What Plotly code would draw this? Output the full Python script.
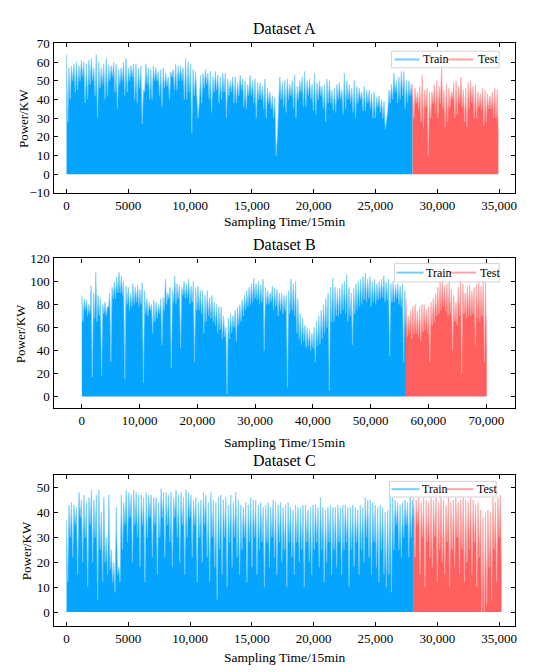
import numpy as np
import plotly.graph_objects as go

# ---------------- data ----------------
# Each series is stored as alternating local maxima (peaks) and minima (valleys)
# read along the time axis.

# Dataset A  (samples 0 .. 34944, train/test split at 28000)
A_split = 28000
A_end = 34944
A_train_peaks = [64, 57, 58, 59, 60, 58, 61, 60, 59, 61, 62, 57, 64, 60, 57, 59, 62, 58, 58, 60,
                 59, 56, 57, 60, 62, 57, 58, 59, 59, 57, 58, 45, 59, 57, 56, 58, 57, 55, 56, 57,
                 54, 52, 55, 56, 59, 58, 58, 57, 62, 60, 59, 56, 55, 30, 53, 54, 56, 54, 55, 52,
                 55, 53, 52, 54, 54, 51, 50, 52, 52, 49, 53, 51, 50, 48, 53, 50, 51, 49, 49, 47,
                 51, 46, 44, 42, 41, 20, 52, 49, 50, 51, 48, 50, 53, 47, 50, 52, 55, 50, 51, 48,
                 54, 49, 50, 47, 48, 51, 50, 45, 46, 48, 49, 45, 54, 50, 48, 46, 50, 47, 46, 44,
                 47, 45, 45, 43, 44, 41, 42, 40, 39, 30, 45, 48, 54, 50, 52, 55, 55, 50, 50, 48]
A_train_valleys = [28, 40, 50, 44, 45, 50, 52, 38, 40, 48, 50, 42, 30, 46, 48, 40, 42, 50, 52, 44,
                   35, 48, 50, 42, 44, 50, 52, 40, 38, 46, 27, 44, 48, 40, 40, 50, 50, 42, 36, 46,
                   47, 40, 52, 45, 45, 50, 50, 40, 40, 44, 22, 42, 45, 38, 38, 46, 48, 40, 33, 44,
                   45, 38, 40, 44, 30, 42, 44, 38, 38, 42, 45, 36, 35, 42, 42, 38, 30, 40, 40, 35,
                   30, 38, 35, 30, 10, 38, 40, 36, 33, 40, 42, 35, 30, 40, 44, 36, 36, 42, 40, 34,
                   32, 40, 42, 35, 28, 38, 38, 34, 33, 40, 40, 32, 35, 40, 38, 33, 30, 38, 40, 34,
                   34, 38, 35, 30, 30, 36, 33, 30, 24, 34, 38, 40, 44, 38, 40, 42, 35, 38, 42, 40]
A_test_peaks = [48, 46, 44, 47, 53, 45, 46, 44, 44, 48, 50, 47, 57, 45, 48, 46, 44, 49,
                50, 47, 52, 45, 46, 49, 50, 47, 48, 44, 43, 46, 45, 43, 42, 44, 46, 45]
A_test_valleys = [30, 38, 35, 28, 25, 36, 10, 30, 38, 33, 30, 38, 35, 25, 28, 36, 40, 30,
                  32, 38, 36, 28, 25, 35, 38, 30, 30, 36, 34, 26, 28, 35, 35, 30, 30, 20]

# Dataset B  (samples 0 .. 70080, split at 56100)
B_split = 56100
B_end = 70080
B_train_peaks = [88, 85, 84, 80, 96, 90, 108, 88, 85, 80, 82, 78, 90, 95, 100, 104, 108, 105, 100, 96,
                 95, 90, 98, 95, 97, 93, 99, 92, 85, 82, 80, 84, 82, 80, 85, 86, 102, 90, 95, 92,
                 105, 98, 97, 95, 100, 98, 102, 96, 100, 95, 96, 92, 92, 88, 92, 86, 88, 82, 80, 78,
                 78, 70, 60, 68, 72, 70, 75, 78, 80, 84, 88, 92, 95, 98, 103, 98, 100, 97, 102, 95,
                 92, 90, 96, 94, 93, 90, 90, 88, 88, 92, 102, 98, 100, 85, 72, 68, 62, 60, 58, 55,
                 60, 65, 70, 75, 80, 85, 90, 95, 103, 95, 92, 94, 98, 100, 106, 95, 90, 94, 98, 100,
                 102, 104, 107, 102, 104, 100, 102, 98, 100, 102, 105, 100, 102, 98, 100, 97, 98, 96, 98, 92]
B_train_valleys = [65, 75, 70, 72, 17, 68, 65, 70, 18, 72, 70, 78, 30, 85, 85, 90, 90, 88, 15, 80,
                   75, 78, 80, 82, 78, 80, 12, 72, 70, 75, 55, 65, 68, 72, 45, 75, 80, 85, 25, 82,
                   80, 85, 42, 88, 85, 86, 80, 82, 30, 75, 75, 72, 55, 65, 70, 68, 65, 62, 55, 58,
                   50, 52, 2, 50, 55, 60, 48, 62, 65, 70, 75, 78, 80, 82, 85, 84, 80, 82, 40, 80,
                   80, 82, 75, 78, 70, 75, 72, 74, 8, 72, 75, 70, 55, 50, 45, 48, 42, 44, 40, 42,
                   30, 44, 45, 50, 55, 60, 5, 65, 65, 70, 70, 72, 75, 72, 65, 70, 45, 72, 75, 78,
                   80, 84, 82, 85, 78, 82, 80, 84, 85, 86, 82, 84, 35, 82, 82, 85, 80, 78, 30, 60]
B_test_peaks = [86, 70, 75, 78, 80, 74, 78, 80, 80, 76, 78, 82, 85, 90, 95, 100, 102, 96,
                98, 100, 93, 88, 82, 95, 104, 98, 90, 96, 97, 92, 95, 98, 100, 96, 102, 100]
B_test_valleys = [52, 55, 50, 54, 55, 52, 48, 56, 58, 55, 30, 62, 65, 70, 72, 75, 78, 74,
                  70, 72, 40, 65, 62, 70, 20, 72, 68, 70, 70, 72, 45, 68, 65, 70, 30, 40]

# Dataset C  (samples 0 .. 35200, split at 28100)
C_split = 28100
C_end = 35200
C_train_peaks = [37, 43, 44, 43, 42, 48, 45, 47, 44, 46, 49, 45, 47, 49, 40, 46, 30, 47, 25, 20,
                 42, 18, 47, 44, 49, 48, 47, 49, 48, 47, 47, 46, 48, 47, 47, 46, 46, 44, 49.5, 48,
                 48, 47, 48, 46, 49, 47, 48, 46, 49, 48, 47, 45, 46, 44, 45, 48, 47, 44, 48, 45,
                 44, 46, 47, 45, 46, 43, 47, 44, 48, 45, 43, 42, 44, 43, 46, 45, 45, 43, 44, 42,
                 43, 44, 42, 45, 44, 43, 44, 42, 43, 44, 42, 41, 43, 42, 42, 43, 43, 41, 42, 43,
                 43, 42, 46, 42, 41, 42, 43, 42, 42, 43, 42, 43, 43, 42, 42, 43, 42, 41, 43, 42,
                 46, 45, 45, 44, 43, 42, 43, 42, 40, 41, 47, 46, 45, 44, 43, 44, 45, 44, 47, 45]
C_train_valleys = [12, 30, 22, 35, 15, 38, 20, 30, 10, 35, 20, 30, 5, 25, 12, 20, 15, 17, 12, 8,
                   15, 12, 25, 35, 28, 38, 20, 35, 30, 18, 35, 12, 30, 38, 22, 35, 15, 30, 38, 22,
                   35, 28, 18, 38, 30, 20, 35, 15, 30, 38, 22, 35, 12, 30, 20, 35, 22, 12, 30, 18,
                   5, 25, 15, 30, 10, 28, 18, 30, 22, 15, 25, 30, 12, 28, 18, 30, 15, 25, 28, 10,
                   28, 18, 30, 22, 15, 28, 20, 25, 10, 28, 22, 15, 28, 20, 25, 10, 28, 20, 15, 25,
                   28, 18, 25, 12, 20, 28, 15, 25, 18, 28, 15, 25, 28, 10, 25, 18, 28, 15, 25, 20,
                   30, 22, 15, 28, 18, 12, 25, 15, 10, 15, 8, 25, 35, 25, 22, 30, 35, 22, 30, 38]
C_test_peaks = [47, 45, 46, 44, 46, 45, 44, 46, 45, 46, 44, 46, 45, 43, 46, 44, 45, 46,
                44, 45, 46, 45, 44, 46, 45, 43, 44, 41, 38, 40, 41, 40, 46, 44, 46, 47]
C_test_valleys = [22, 35, 15, 30, 10, 28, 22, 18, 30, 12, 25, 20, 15, 28, 10, 25, 18, 30,
                  15, 25, 12, 20, 25, 15, 28, 10, 22, 0, 0, 3, 18, 5, 25, 12, 30, 15]

# tick labels
A_xticks = [0, 5000, 10000, 15000, 20000, 25000, 30000, 35000]
A_xtext = ["0", "5000", "10,000", "15,000", "20,000", "25,000", "30,000", "35,000"]
B_xticks = [0, 10000, 20000, 30000, 40000, 50000, 60000, 70000]
B_xtext = ["0", "10,000", "20,000", "30,000", "40,000", "50,000", "60,000", "70,000"]
A_yticks = [-10, 0, 10, 20, 30, 40, 50, 60, 70]
B_yticks = [0, 20, 40, 60, 80, 100, 120]
C_yticks = [0, 10, 20, 30, 40, 50]

# ---------------- styling ----------------
FONT = "Liberation Serif, Times New Roman, serif"
TRAIN_FILL = "#05A5FF"
TRAIN_LINE = "#74CCFF"
TEST_FILL = "#FF5F5F"
TEST_LINE = "#FFA3A3"
W, H = 550, 672


def interleave(peaks, valleys):
    out = []
    for i in range(max(len(peaks), len(valleys))):
        if i < len(peaks):
            out.append(peaks[i])
        if i < len(valleys):
            out.append(valleys[i])
    return out


panels = [
    dict(name="A", split=A_split, end=A_end,
         tr=interleave(A_train_peaks, A_train_valleys),
         te=interleave(A_test_peaks, A_test_valleys),
         xr=[-1050, 36300], yr=[-10, 70], xt=A_xticks, xs=A_xtext, yt=A_yticks,
         px=(45.7, 509), py=(29, 182), title_y=14, xtitle_y=211, ytitle_x=15,
         leg=dict(box=(385, 493, 37, 54), l1=(388, 413), t1=415, l2=(440, 467), t2=470)),
    dict(name="B", split=B_split, end=B_end,
         tr=interleave(B_train_peaks, B_train_valleys),
         te=interleave(B_test_peaks, B_test_valleys),
         xr=[-4900, 75000], yr=[-10, 120], xt=B_xticks, xs=B_xtext, yt=B_yticks,
         px=(45.7, 509), py=(249, 402), title_y=235, xtitle_y=437, ytitle_x=12,
         leg=dict(box=(388, 493, 254, 273), l1=(390, 417), t1=418, l2=(443, 470), t2=472)),
    dict(name="C", split=C_split, end=C_end,
         tr=interleave(C_train_peaks, C_train_valleys),
         te=interleave(C_test_peaks, C_test_valleys),
         xr=[-1050, 36300], yr=[-5.6, 55.2], xt=A_xticks, xs=A_xtext, yt=C_yticks,
         px=(45.7, 509), py=(470, 625), title_y=456, xtitle_y=657, ytitle_x=18,
         leg=dict(box=(383, 490, 477, 493), l1=(385, 413), t1=414, l2=(440, 467), t2=469)),
]

fig = go.Figure()
layout = dict(width=W, height=H, margin=dict(l=0, r=0, t=0, b=0),
              paper_bgcolor="white", plot_bgcolor="white",
              font=dict(family=FONT, size=13, color="black"),
              showlegend=False)
annotations = []
shapes = []


def px_x(v):
    return v / W


def px_y(v):
    return 1 - v / H


for i, p in enumerate(panels):
    n = i + 1
    xa = "x" if n == 1 else f"x{n}"
    ya = "y" if n == 1 else f"y{n}"

    x_tr = np.linspace(0, p["split"], len(p["tr"]))
    x_te = np.linspace(p["split"], p["end"], len(p["te"]))

    fig.add_trace(go.Scatter(x=x_tr, y=p["tr"], mode="lines", fill="tozeroy", name="Train",
                             fillcolor=TRAIN_FILL, line=dict(color=TRAIN_LINE, width=0.7),
                             xaxis=xa, yaxis=ya, hoverinfo="skip"))
    fig.add_trace(go.Scatter(x=x_te, y=p["te"], mode="lines", fill="tozeroy", name="Test",
                             fillcolor=TEST_FILL, line=dict(color=TEST_LINE, width=0.7),
                             xaxis=xa, yaxis=ya, hoverinfo="skip"))

    xd = [p["px"][0] / W, p["px"][1] / W]
    yd = [1 - p["py"][1] / H, 1 - p["py"][0] / H]
    axcommon = dict(showline=True, linecolor="black", linewidth=1.2, mirror="allticks",
                    ticks="inside", ticklen=4, tickwidth=1, tickcolor="black",
                    showgrid=False, zeroline=False,
                    tickfont=dict(family=FONT, size=13, color="black"))
    layout["xaxis" if n == 1 else f"xaxis{n}"] = dict(
        domain=xd, range=p["xr"], tickmode="array", tickvals=p["xt"], ticktext=p["xs"],
        anchor=ya, **axcommon)
    layout["yaxis" if n == 1 else f"yaxis{n}"] = dict(
        domain=yd, range=p["yr"], tickmode="array", tickvals=p["yt"],
        anchor=xa, **axcommon)

    # hand-drawn legend box (Origin style, semi-transparent)
    lg = p["leg"]
    x0, x1, y0, y1 = lg["box"]
    ym = (y0 + y1) / 2
    shapes.append(dict(type="rect", xref="paper", yref="paper",
                       x0=px_x(x0), x1=px_x(x1), y0=px_y(y1), y1=px_y(y0),
                       fillcolor="rgba(255,255,255,0.78)", line=dict(color="#d2d2d2", width=1)))
    shapes.append(dict(type="line", xref="paper", yref="paper",
                       x0=px_x(lg["l1"][0]), x1=px_x(lg["l1"][1]), y0=px_y(ym), y1=px_y(ym),
                       line=dict(color=TRAIN_LINE, width=2)))
    shapes.append(dict(type="line", xref="paper", yref="paper",
                       x0=px_x(lg["l2"][0]), x1=px_x(lg["l2"][1]), y0=px_y(ym), y1=px_y(ym),
                       line=dict(color=TEST_LINE, width=2)))
    for txt, tx in (("Train", lg["t1"]), ("Test", lg["t2"])):
        annotations.append(dict(text=txt, x=px_x(tx), y=px_y(ym), xref="paper", yref="paper",
                                showarrow=False, xanchor="left", yanchor="middle",
                                font=dict(family=FONT, size=12, color="black")))

    cx = (p["px"][0] + p["px"][1]) / 2 / W
    annotations.append(dict(text=f"Dataset {p['name']}", x=cx, y=px_y(p["title_y"]),
                            xref="paper", yref="paper", showarrow=False,
                            xanchor="center", yanchor="middle",
                            font=dict(family=FONT, size=16, color="black")))
    annotations.append(dict(text="Sampling Time/15min", x=cx, y=px_y(p["xtitle_y"]),
                            xref="paper", yref="paper", showarrow=False,
                            xanchor="center", yanchor="middle",
                            font=dict(family=FONT, size=13.5, color="black")))
    annotations.append(dict(text="Power/KW", x=px_x(p["ytitle_x"]),
                            y=px_y((p["py"][0] + p["py"][1]) / 2),
                            xref="paper", yref="paper", showarrow=False, textangle=-90,
                            xanchor="center", yanchor="middle",
                            font=dict(family=FONT, size=13, color="black")))

layout["annotations"] = annotations
layout["shapes"] = shapes
fig.update_layout(**layout)
fig.write_html("out.html")
